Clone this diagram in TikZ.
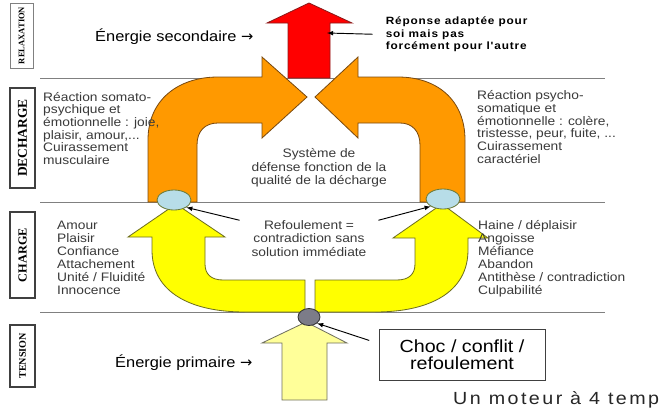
\documentclass[tikz,border=0pt]{standalone}
\usepackage{fontspec}
\setmainfont{Liberation Sans}[FakeStretch=1.12]
\newfontfamily\spacedfont{Liberation Sans}[FakeStretch=1.12,LetterSpace=8]
\newfontfamily\widefont{Liberation Sans}[FakeStretch=1.12,LetterSpace=14]
\newfontfamily\levelfont{Liberation Serif}
\newfontfamily\arrowfont{DejaVu Sans}
\usetikzlibrary{shapes.geometric}
\definecolor{relaxred}{HTML}{FF0000}
\definecolor{relaxredline}{HTML}{8B1A1A}
\definecolor{dechargeorange}{HTML}{FF9900}
\definecolor{dechargeline}{HTML}{7A4A10}
\definecolor{chargeyellow}{HTML}{FFFF00}
\definecolor{chargeline}{HTML}{6E6E20}
\definecolor{tensionyellow}{HTML}{FFFF99}
\definecolor{tensionline}{HTML}{707060}
\definecolor{bubbleblue}{HTML}{B7DDE8}
\definecolor{bubbleline}{HTML}{6B7A3A}
\definecolor{knotgray}{HTML}{7C7C88}
\definecolor{textgray}{HTML}{3A3A3A}
\newcommand{\pointertip}{latex}
\newcommand{\sidearrow}{{\arrowfont →}}
\tikzstyle{pointer}=[-\pointertip,line width=0.8pt,black]
\tikzstyle{levelline}=[gray,line width=0.7pt]
\tikzstyle{blockarrow}=[line width=0.7pt,line join=miter]
\tikzstyle{bubble}=[ellipse,draw=bubbleline,fill=bubbleblue,line width=0.7pt,
                    minimum width=1.02cm,minimum height=0.6cm,inner sep=0pt]
\tikzstyle{knotdot}=[ellipse,draw=black!80,fill=knotgray,line width=0.7pt,
                     minimum width=0.66cm,minimum height=0.51cm,inner sep=0pt]
\tikzstyle{levelbox}=[draw=black!75,line width=1.2pt,rotate=90,inner sep=0pt,
                      font=\levelfont\bfseries]
\tikzstyle{bodytext}=[align=left,anchor=west,inner sep=0pt,text=textgray,
                      font=\fontsize{10.5}{10.8}\selectfont]
\tikzstyle{bigtext}=[anchor=west,inner sep=0pt,font=\fontsize{12.5}{15}\selectfont]

\begin{document}
\begin{tikzpicture}[x=0.03cm,y=-0.03cm]

  % White background, one unit is one pixel of the sketch
  \useasboundingbox (0,0) rectangle (661,414);
  \fill[white] (0,0) rectangle (661,414);

  % Level lines
  \draw[levelline] (40,78)  -- (605,78);
  \draw[levelline] (40,202) -- (605,202);
  \draw[levelline] (40,312) -- (605,312);

  % Level boxes
  \node[levelbox,draw=gray,line width=0.6pt,minimum width=1.95cm,minimum height=0.69cm]
    at (21.5,35.5) (nodeRelax) {\fontsize{7.3}{8}\selectfont RELAXATION};
  \node[levelbox,minimum width=3cm,minimum height=0.75cm]
    at (22.5,138) (nodeDecharge) {\fontsize{11.5}{12}\selectfont DECHARGE};
  \node[levelbox,minimum width=2.58cm,minimum height=0.75cm]
    at (22.5,255) (nodeCharge) {\fontsize{10.5}{12}\selectfont CHARGE};
  \node[levelbox,minimum width=1.86cm,minimum height=0.75cm]
    at (22.5,356) (nodeTension) {\fontsize{8.6}{10}\selectfont TENSION};

  % Red arrow
  \draw[blockarrow,fill=relaxred,draw=relaxredline]
    (288,78) -- (288,23) -- (267,23) -- (309,3) -- (352,23) -- (330,23) -- (330,78) -- cycle;

  % Orange arrows
  \draw[blockarrow,fill=dechargeorange,draw=dechargeline]
    (148,202) -- (148,140) .. controls (148,100) and (178,77) .. (218,77) -- (262,77)
    -- (262,57) -- (307,97) -- (262,138) -- (262,123) -- (218,123)
    .. controls (205,123) and (197,131) .. (197,145) -- (197,202) -- cycle;
  \draw[blockarrow,fill=dechargeorange,draw=dechargeline]
    (465,202) -- (465,140) .. controls (465,100) and (437,77) .. (398,77) -- (358,77)
    -- (358,57) -- (315,97) -- (358,138) -- (358,123) -- (400,123)
    .. controls (412,123) and (420,131) .. (420,145) -- (420,202) -- cycle;

  % Yellow arrows
  \draw[blockarrow,fill=chargeyellow,draw=chargeline]
    (305,312) -- (245,312) .. controls (190,312) and (152,292) .. (152,250) -- (152,237)
    -- (128,237) -- (176,204) -- (225,237) -- (205,237) -- (205,264)
    .. controls (205,274) and (211,280) .. (223,280) -- (305,280) -- cycle;
  \draw[blockarrow,fill=chargeyellow,draw=chargeline]
    (315,312) -- (375,312) .. controls (430,312) and (468,292) .. (468,250) -- (468,238)
    -- (488,238) -- (442,204) -- (393,238) -- (415,238) -- (415,264)
    .. controls (415,274) and (409,280) .. (397,280) -- (315,280) -- cycle;

  % Pale yellow arrow
  \draw[blockarrow,fill=tensionyellow,draw=tensionline]
    (282,400) -- (282,343) -- (262,343) -- (306,322) -- (347,343) -- (327,343) -- (327,400) -- cycle;

  % Bubbles
  \node[bubble] at (174,200) (nodeBlueL) {};
  \node[bubble] at (443,199) (nodeBlueR) {};
  \node[knotdot] at (309,317) (nodeKnot) {};

  % Texts
  \node[bigtext] at (95,37) (nodeSecondaire) {Énergie secondaire \sidearrow};
  \node[anchor=west,inner sep=3pt,align=left,
        font=\spacedfont\bfseries\fontsize{9}{10.7}\selectfont]
    at (382,34.5) (nodeReponse) {Réponse adaptée pour\\soi mais pas\\forcément pour l'autre};
  \node[bodytext] at (43,128.5) (nodeSomato)
    {Réaction somato-\\psychique et\\émotionnelle : joie,\\plaisir, amour,...\\Cuirassement\\musculaire};
  \node[bodytext] at (477,127) (nodePsycho)
    {Réaction psycho-\\somatique et\\émotionnelle : colère,\\tristesse, peur, fuite, ...\\Cuirassement\\caractériel};
  \node[bodytext,align=center,anchor=center,font=\fontsize{10.5}{11.5}\selectfont]
    at (319,168) (nodeSysteme) {Système de\\défense fonction de la\\qualité de la décharge};
  \node[bodytext,align=center,anchor=center,inner xsep=10pt,font=\fontsize{10.5}{11.5}\selectfont]
    at (309,238.5) (nodeRefoul) {Refoulement =\\contradiction sans\\solution immédiate};
  \node[bodytext,font=\fontsize{10.5}{11.1}\selectfont] at (57,258) (nodeAmour)
    {Amour\\Plaisir\\Confiance\\Attachement\\Unité / Fluidité\\Innocence};
  \node[bodytext,font=\fontsize{10.5}{11.1}\selectfont] at (478,258.5) (nodeHaine)
    {Haine / déplaisir\\Angoisse\\Méfiance\\Abandon\\Antithèse / contradiction\\Culpabilité};
  \node[bigtext] at (115,363) (nodePrimaire) {Énergie primaire \sidearrow};
  \node[draw=black!75,line width=0.7pt,align=center,minimum width=4.98cm,minimum height=1.53cm,
        font=\fontsize{15}{14.5}\selectfont]
    at (462,354.5) (nodeChoc) {Choc / conflit /\\refoulement};
  \node[anchor=west,inner sep=0pt,text=black!85,font=\widefont\fontsize{15}{17}\selectfont]
    at (453,400) (nodeMoteur) {Un moteur à 4 temp};

  % Pointers
  \coordinate (redShaft) at (327,33);
  \draw[pointer,shorten <=8pt] (nodeReponse.west) -- (redShaft);
  \draw[pointer] (nodeRefoul.north west) -- (nodeBlueL.south east);
  \draw[pointer] (nodeRefoul.north east) -- (nodeBlueR.south west);
  \draw[pointer] ([xshift=-8pt,yshift=12pt]nodeChoc.west) -- (nodeKnot.south east);

\end{tikzpicture}
\end{document}
